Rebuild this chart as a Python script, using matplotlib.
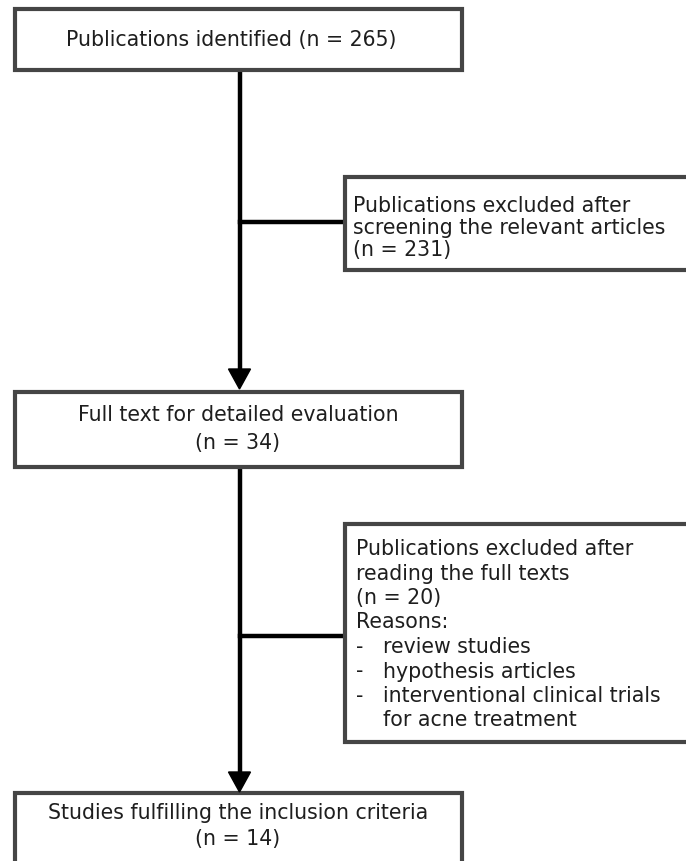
import matplotlib.pyplot as plt
import matplotlib.patches as patches

# textos das caixas
caixa1 = ["Publications identified (n = 265)"]
caixa2 = ["Publications excluded after", "screening the relevant articles", "(n = 231)"]
caixa3 = ["Full text for detailed evaluation", "(n = 34)"]
caixa4 = ["Publications excluded after", "reading the full texts", "(n = 20)", "Reasons:"]
motivos = ["review studies", "hypothesis articles", "interventional clinical trials", "for acne treatment"]
caixa5 = ["Studies fulfilling the inclusion criteria", "(n = 14)"]

plt.rcParams['font.family'] = ['DejaVu Sans']
FS = 14.8
COR_TXT = '#1e1e1e'
COR_BORDA = '#454545'

fig = plt.figure(figsize=(6.86, 8.61), dpi=100)
ax = fig.add_axes([0, 0, 1, 1])
ax.set_xlim(0, 686)
ax.set_ylim(861, 0)
ax.axis('off')

def caixa(x0, y0, x1, y1):
  r = patches.Rectangle((x0, y0), x1 - x0, y1 - y0, fill=True, facecolor='white',
                        edgecolor=COR_BORDA, linewidth=3, zorder=2)
  ax.add_patch(r)

def linhas(textos, x, y_base, passo, ha='left'):
  for i, t in enumerate(textos):
    ax.text(x, y_base + i*passo, t, ha=ha, va='baseline', fontsize=FS, color=COR_TXT, zorder=3)

def seta(x, y0, y1, cab=20, larg=11):
  ax.plot([x, x], [y0, y1 - cab + 2], color='black', lw=3.2, solid_capstyle='butt', zorder=1)
  tri = patches.Polygon([(x - larg, y1 - cab), (x + larg, y1 - cab), (x, y1)], closed=True,
                        color='black', zorder=3)
  ax.add_patch(tri)

xc = 239.5

# caixa 1
caixa(15, 9, 462, 70)
linhas(caixa1, 231, 46, 0, ha='center')

# seta 1 e ramo
seta(xc, 70, 389)
ax.plot([xc, 345], [222, 222], color='black', lw=3.2, zorder=1)
caixa(345, 177, 705, 270)
linhas(caixa2, 353, 212, 22)

# caixa 3
caixa(15, 392, 462, 467)
linhas(caixa3, 238, 421, 27.5, ha='center')

# seta 2 e ramo
seta(xc, 467, 792)
ax.plot([xc, 345], [636, 636], color='black', lw=3.2, zorder=1)
caixa(345, 524, 705, 742)
linhas(caixa4, 356, 555, 24.5)
for i, m in enumerate(motivos):
  y = 555 + (len(caixa4) + i)*24.5
  if i < 3:
    ax.text(356, y, "-", ha='left', va='baseline', fontsize=FS, color=COR_TXT, zorder=3)
  ax.text(383, y, m, ha='left', va='baseline', fontsize=FS, color=COR_TXT, zorder=3)

# caixa 5
caixa(15, 793, 462, 880)
linhas(caixa5, 238, 819, 26, ha='center')

plt.savefig('out.png', dpi=100)
